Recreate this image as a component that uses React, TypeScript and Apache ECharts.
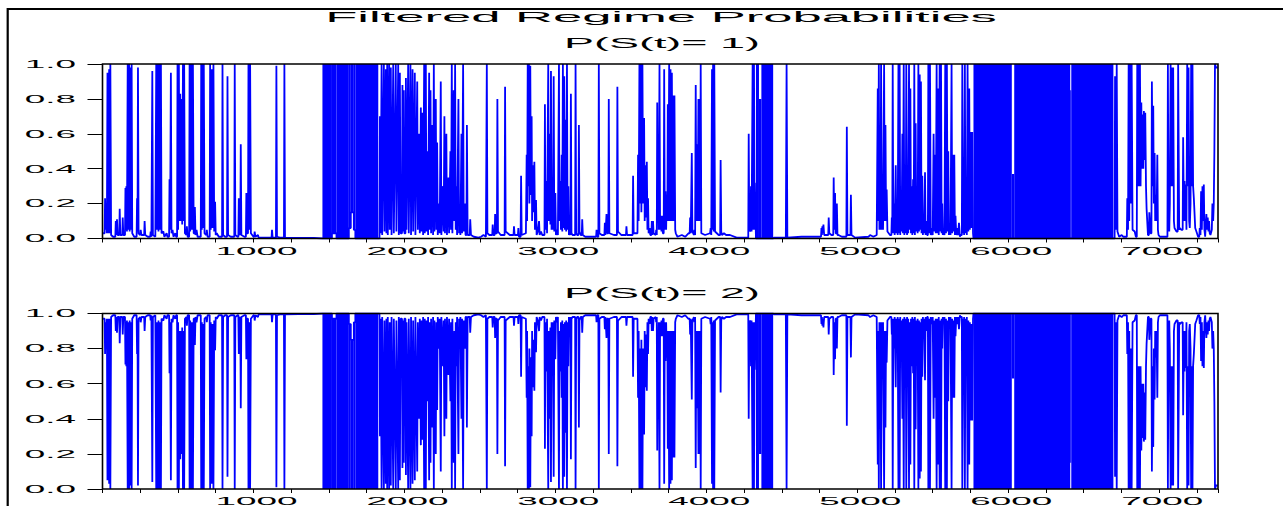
import React, { useEffect, useRef } from "react";
import * as echarts from "echarts";

// ---------- data ----------
const chartTitle = "Filtered Regime Probabilities";
const panelTitles = ["P(S(t)= 1)", "P(S(t)= 2)"];
const xTickLabels = [1000, 2000, 3000, 4000, 5000, 6000, 7000];
const yTickLabels = [0.0, 0.2, 0.4, 0.6, 0.8, 1.0];
const xMax = 7390;

// P(S(t)=1): vertices of the filtered probability line [t, p]
const p1Path: [number, number][] = [
  [4, 0.03], [14, 0.03], [17, 0.23], [21, 0.05], [26, 0.13], [29, 0.03], [33, 0.95], [37, 0.03], [44, 0.97], [48, 0.03], [52, 1.0], [57, 0.02],
  [70, 0.01], [85, 0.01], [88, 0.1], [92, 0.02], [96, 0.11], [100, 0.02], [111, 0.02], [114, 0.17], [118, 0.02], [131, 0.02], [134, 0.12], [138, 0.02],
  [149, 0.02], [152, 0.29], [155, 0.05],
  [158, 0.3], [162, 0.04], [167, 1.0], [171, 0.05], [176, 1.0], [180, 0.04], [185, 0.98], [189, 0.05], [193, 1.0], [197, 0.03], [210, 0.01],
  [226, 0.01], [229, 0.23], [232, 0.04], [235, 0.98], [239, 0.03], [250, 0.02], [253, 0.05], [258, 0.02], [276, 0.02], [279, 0.1], [283, 0.02],
  [300, 0.01], [316, 0.01], [319, 0.04], [324, 0.01], [327, 0.01],
  [330, 0.96], [334, 0.02], [350, 0.01], [353, 0.01], [356, 1.0], [360, 0.05], [367, 1.0], [371, 0.04], [378, 1.0], [382, 0.05], [387, 1.0], [391, 0.03],
  [403, 0.04], [410, 0.01], [425, 0.03], [430, 0.01], [441, 0.01], [444, 0.34], [448, 0.05], [453, 0.95], [457, 0.03], [464, 0.05], [470, 0.01], [482, 0.03],
  [488, 0.01], [494, 0.01], [497, 1.0], [501, 0.05], [506, 1.0], [510, 0.1], [515, 0.83], [519, 0.1], [524, 0.8], [528, 0.08], [533, 1.0], [537, 0.1],
  [541, 1.0], [546, 0.03], [556, 0.02], [559, 0.07], [564, 0.01], [574, 0.01], [577, 1.0], [581, 0.04], [588, 1.0], [592, 0.05], [599, 1.0], [604, 0.03],
  [609, 0.03], [612, 0.18],
  [616, 0.02], [623, 0.05], [630, 0.01], [651, 0.01], [654, 1.0], [658, 0.05], [663, 1.0], [667, 0.06], [671, 1.0], [676, 0.03], [688, 0.02], [691, 0.05],
  [696, 0.01], [710, 0.01],
  [713, 1.0], [717, 0.05], [724, 0.97], [728, 0.06], [735, 1.0], [740, 0.04], [746, 0.21], [750, 0.02], [757, 0.03], [770, 0.01], [792, 0.01], [795, 1.0],
  [799, 0.02], [812, 0.01], [825, 0.01], [828, 0.93], [832, 0.02], [850, 0.01], [873, 0.01], [876, 1.0], [880, 0.02], [895, 0.01], [900, 0.01],
  [903, 0.23], [907, 0.03], [913, 0.02], [916, 0.54],
  [920, 0.02], [940, 0.01], [950, 0.01], [953, 0.26], [957, 0.03], [964, 0.03], [967, 1.0], [971, 0.05], [978, 1.0], [983, 0.03], [1000, 0.01],
  [1005, 0.01], [1008, 0.04], [1013, 0.01],
  [1030, 0.02], [1034, 0.005], [1090, 0.005], [1120, 0.005], [1123, 0.05], [1127, 0.005], [1149, 0.005], [1152, 0.99], [1156, 0.01], [1175, 0.005],
  [1202, 0.005], [1205, 1.0], [1209, 0.005], [1300, 0.003], [1400, 0.003], [1457, 0.0],
  [1520, 0.0], [1520, 0.03], [1550, 0.03], [1550, 0.0], [1632, 0.0], [1632, 0.06], [1645, 0.06], [1645, 0.15], [1665, 0.15], [1665, 0.05],
  [1675, 0.05], [1675, 0.0], [1827, 0.0], [1835, 0.0],
  [1838, 0.7], [1842, 0.03], [1849, 1.0], [1853, 0.02], [1864, 1.0], [1868, 0.04], [1877, 0.97], [1881, 0.03], [1886, 1.0], [1890, 0.02],
  [1899, 1.0], [1903, 0.05], [1910, 0.98], [1915, 0.02], [1926, 1.0], [1930, 0.03], [1943, 1.0], [1947, 0.04], [1959, 1.0], [1963, 0.02],
  [1970, 0.95], [1975, 0.03], [1984, 0.03], [1987, 0.88], [1991, 0.04], [1996, 0.85], [2000, 0.03], [2007, 0.03], [2010, 0.92], [2014, 0.05],
  [2025, 1.0], [2029, 0.03],
  [2040, 1.0], [2044, 0.02], [2054, 0.97], [2058, 0.04], [2069, 0.95], [2073, 0.02], [2085, 0.9], [2089, 0.05], [2098, 0.6], [2102, 0.03],
  [2109, 0.75], [2113, 0.04], [2120, 0.72], [2124, 0.02], [2131, 1.0], [2135, 0.03], [2142, 1.0], [2146, 0.04], [2153, 0.5], [2157, 0.02],
  [2164, 0.95], [2168, 0.05], [2173, 0.85], [2177, 0.03], [2186, 0.65], [2190, 0.02], [2195, 1.0], [2199, 0.04], [2208, 0.8], [2212, 0.05],
  [2217, 0.55], [2221, 0.02], [2230, 0.2], [2234, 0.03], [2241, 0.9], [2245, 0.02], [2256, 0.3], [2260, 0.04], [2265, 0.7], [2269, 0.03],
  [2278, 0.6], [2282, 0.02], [2292, 0.35], [2296, 0.03], [2305, 0.5], [2309, 0.05], [2314, 1.0], [2318, 0.03], [2327, 0.85], [2331, 0.1],
  [2336, 1.0], [2340, 0.05], [2345, 0.3], [2349, 0.02], [2358, 0.8], [2362, 0.03], [2367, 0.1], [2371, 0.02], [2378, 0.6], [2382, 0.03],
  [2389, 1.0], [2393, 0.04], [2400, 0.2], [2405, 0.02], [2411, 0.02], [2414, 0.65], [2419, 0.02], [2433, 0.02], [2436, 0.11], [2441, 0.02],
  [2460, 0.01], [2490, 0.005],
  [2508, 0.01], [2524, 0.02], [2540, 0.01], [2543, 0.01], [2546, 1.0], [2550, 0.03], [2563, 0.02], [2582, 0.02], [2585, 0.08], [2589, 0.02],
  [2598, 0.02], [2601, 0.14], [2605, 0.03], [2613, 0.03],
  [2616, 0.8], [2620, 0.04], [2638, 0.02], [2664, 0.02], [2667, 0.87], [2671, 0.04], [2698, 0.02], [2723, 0.02], [2726, 0.07], [2730, 0.02],
  [2752, 0.02], [2755, 0.06], [2759, 0.01], [2770, 0.01],
  [2773, 0.36], [2777, 0.02], [2805, 0.03], [2810, 0.48], [2813, 0.1], [2817, 1.0], [2820, 0.3], [2825, 1.0], [2828, 0.2], [2834, 0.99],
  [2838, 0.25], [2843, 0.7], [2846, 0.1], [2850, 0.42], [2854, 0.15], [2861, 0.44], [2865, 0.05], [2872, 0.22], [2876, 0.02], [2884, 0.04],
  [2892, 0.1], [2896, 0.02], [2905, 0.04], [2913, 0.02], [2928, 0.02], [2931, 0.77], [2934, 0.05], [2942, 0.33], [2945, 0.03], [2953, 1.0], [2956, 0.1],
  [2964, 0.6], [2967, 0.08], [2971, 0.96], [2975, 0.05], [2980, 0.2], [2984, 0.05], [2989, 0.93], [2993, 0.04], [3000, 0.26], [3004, 0.02],
  [3011, 0.05], [3017, 0.02], [3021, 0.02], [3024, 1.0], [3027, 0.1], [3033, 0.33], [3037, 0.05], [3042, 0.48], [3046, 0.04], [3050, 1.0], [3054, 0.06],
  [3059, 0.93], [3063, 0.05], [3068, 0.68], [3072, 0.04], [3077, 1.0], [3081, 0.05], [3086, 0.3], [3090, 0.02], [3095, 0.05], [3100, 0.02],
  [3103, 0.83], [3107, 0.03], [3114, 0.02], [3131, 0.02], [3134, 1.0], [3138, 0.03], [3145, 0.02], [3153, 0.02], [3156, 0.65], [3160, 0.04],
  [3168, 0.02], [3175, 0.02], [3178, 0.11],
  [3182, 0.02], [3198, 0.01], [3248, 0.01], [3270, 0.01], [3273, 0.05], [3278, 0.01], [3285, 0.01], [3288, 1.0], [3292, 0.03], [3308, 0.02],
  [3325, 0.02], [3328, 0.09], [3332, 0.02],
  [3339, 0.14], [3343, 0.03], [3351, 0.03], [3354, 0.8], [3358, 0.03], [3388, 0.02], [3408, 0.02], [3411, 0.87], [3415, 0.04], [3438, 0.02],
  [3468, 0.02], [3471, 0.07], [3475, 0.02],
  [3498, 0.02], [3512, 0.02], [3515, 0.36], [3519, 0.03], [3544, 0.03], [3548, 0.48], [3552, 0.1], [3557, 1.0], [3561, 0.2], [3566, 1.0], [3570, 0.15],
  [3577, 1.0], [3581, 0.2], [3588, 0.69], [3592, 0.1], [3597, 0.42], [3601, 0.12], [3606, 0.44], [3610, 0.05], [3614, 0.23], [3618, 0.03],
  [3625, 0.06], [3629, 0.02], [3636, 0.02], [3639, 0.1], [3643, 0.02], [3647, 0.1], [3651, 0.03], [3665, 0.02], [3668, 0.05], [3672, 0.02],
  [3675, 0.78], [3678, 0.1],
  [3681, 0.33], [3685, 0.05], [3690, 1.0], [3694, 0.05], [3699, 0.13], [3703, 0.04], [3708, 0.13], [3712, 0.03], [3718, 0.03], [3721, 0.97], [3725, 0.05],
  [3730, 0.27], [3734, 0.05], [3738, 0.25], [3742, 0.1], [3745, 0.77], [3749, 0.1], [3754, 1.0], [3758, 0.1], [3763, 0.97], [3767, 0.1],
  [3772, 0.95], [3776, 0.1], [3780, 0.82], [3784, 0.1], [3789, 0.82], [3794, 0.05], [3798, 0.03], [3809, 0.01], [3838, 0.02], [3860, 0.01],
  [3882, 0.03], [3890, 0.03], [3893, 0.12], [3897, 0.03], [3901, 0.03], [3904, 0.49], [3908, 0.04], [3918, 0.02], [3921, 0.05], [3926, 0.02],
  [3930, 0.88], [3934, 0.1], [3939, 0.54],
  [3943, 0.1], [3948, 0.8], [3952, 0.1], [3957, 0.8], [3960, 0.1], [3963, 1.0], [3967, 0.03], [3992, 0.02], [4025, 0.03], [4029, 0.06],
  [4033, 0.02], [4038, 0.97], [4041, 0.05], [4045, 1.0], [4049, 0.04], [4053, 1.0], [4058, 0.04], [4082, 0.02], [4092, 0.02], [4095, 0.45], [4099, 0.04],
  [4104, 0.02], [4117, 0.03], [4131, 0.02], [4157, 0.02], [4201, 0.005], [4267, 0.005], [4278, 0.005], [4281, 0.6], [4285, 0.05], [4293, 0.04],
  [4296, 0.3], [4300, 0.04], [4304, 0.04],
  [4307, 1.0], [4311, 0.05], [4316, 1.0], [4320, 0.05], [4322, 0.32], [4329, 0.0], [4443, 0.0], [4448, 0.005], [4527, 0.005], [4532, 1.0],
  [4537, 0.005], [4631, 0.01], [4708, 0.01], [4752, 0.01], [4760, 0.01], [4763, 0.06], [4766, 0.02], [4769, 0.07], [4773, 0.03], [4776, 0.08], [4781, 0.02],
  [4796, 0.02], [4808, 0.02], [4811, 0.12], [4815, 0.03], [4829, 0.02], [4841, 0.02], [4844, 0.35], [4848, 0.05], [4853, 0.26], [4857, 0.03],
  [4862, 0.03], [4865, 0.2], [4869, 0.02],
  [4876, 0.02], [4898, 0.01], [4928, 0.01], [4931, 0.64], [4935, 0.02], [4955, 0.02], [4958, 0.25], [4962, 0.02], [4986, 0.005], [5074, 0.01],
  [5085, 0.02], [5107, 0.01],
  [5129, 0.02], [5133, 0.02], [5136, 0.86], [5139, 0.1], [5143, 1.0], [5147, 0.05], [5151, 0.21], [5154, 0.05], [5158, 1.0], [5163, 0.05], [5167, 0.21],
  [5171, 0.05], [5178, 1.0], [5182, 0.1], [5187, 0.65], [5191, 0.1], [5195, 0.28], [5200, 0.04], [5217, 0.02], [5226, 0.02], [5229, 0.12], [5232, 0.03],
  [5235, 1.0], [5239, 0.03], [5244, 0.2], [5248, 0.02], [5255, 0.42], [5259, 0.03], [5264, 0.1], [5268, 0.02], [5273, 1.0], [5277, 0.03],
  [5281, 1.0], [5285, 0.02], [5290, 0.25], [5294, 0.04], [5299, 0.6], [5303, 0.03], [5308, 1.0], [5312, 0.02], [5317, 0.3], [5321, 0.03],
  [5325, 1.0], [5330, 0.02], [5334, 0.15], [5338, 0.03], [5343, 1.0], [5347, 0.05], [5352, 0.86], [5356, 0.03], [5361, 0.3], [5365, 0.02],
  [5370, 0.34], [5374, 0.03], [5378, 1.0], [5382, 0.02], [5387, 0.66], [5391, 0.04], [5396, 0.27], [5400, 0.03], [5405, 1.0], [5409, 0.04],
  [5414, 0.94], [5418, 0.05], [5422, 0.9], [5426, 0.03], [5431, 0.36], [5435, 0.02], [5440, 0.13], [5444, 0.03], [5449, 0.38], [5453, 0.02],
  [5458, 0.1], [5463, 0.02], [5468, 0.02], [5471, 1.0], [5476, 0.03], [5482, 1.0], [5487, 0.02], [5493, 0.06], [5500, 0.02], [5503, 0.02], [5506, 0.6],
  [5510, 0.04],
  [5515, 0.48], [5520, 0.03], [5526, 1.0], [5530, 0.03], [5535, 0.86], [5540, 0.02], [5546, 1.0], [5550, 0.04], [5555, 1.0], [5559, 0.03],
  [5563, 0.2], [5567, 0.02], [5572, 0.06], [5578, 0.02], [5583, 1.0], [5588, 0.03], [5594, 1.0], [5598, 0.04], [5603, 0.5], [5607, 0.02],
  [5612, 0.08], [5618, 0.02], [5625, 1.0], [5629, 0.03], [5634, 0.48], [5638, 0.04], [5643, 0.48], [5647, 0.02], [5651, 0.13], [5656, 0.02],
  [5662, 0.06], [5668, 0.02], [5674, 0.09], [5680, 0.01], [5685, 0.02], [5693, 0.02], [5696, 1.0], [5700, 0.03], [5704, 0.15], [5708, 0.02], [5713, 1.0],
  [5717, 0.03], [5722, 0.15], [5726, 0.02], [5731, 1.0], [5736, 0.04], [5742, 0.86], [5746, 0.05], [5753, 0.61], [5757, 0.06], [5762, 0.61],
  [5767, 0.03], [5770, 0.0], [6697, 0.0], [6705, 0.0],
  [6708, 0.93], [6714, 0.05], [6719, 1.0], [6724, 0.04], [6735, 0.01], [6752, 0.02], [6763, 0.01], [6774, 0.01], [6786, 0.01], [6789, 0.23], [6794, 0.05],
  [6798, 1.0], [6802, 0.1], [6807, 1.0], [6813, 0.2], [6818, 1.0], [6824, 0.05], [6838, 0.04], [6846, 0.01], [6852, 0.01], [6855, 1.0], [6860, 0.3],
  [6864, 1.0], [6868, 0.3], [6873, 1.0], [6877, 0.3], [6882, 0.78], [6886, 0.4], [6891, 0.71], [6895, 0.4], [6899, 0.73], [6904, 0.45],
  [6908, 0.72], [6913, 0.3], [6917, 0.17], [6926, 0.02], [6932, 0.02], [6935, 0.15], [6943, 0.03], [6949, 0.03], [6952, 0.9], [6957, 0.3], [6961, 0.76],
  [6965, 0.2],
  [6970, 0.49], [6974, 0.1], [6979, 0.25], [6983, 0.1], [6988, 0.48], [6992, 0.05], [6996, 0.02], [7005, 0.01], [7049, 0.01], [7055, 0.01], [7058, 1.0],
  [7062, 0.1], [7067, 0.04], [7071, 0.2], [7076, 1.0], [7080, 0.3], [7084, 0.98], [7089, 0.3], [7093, 0.98], [7098, 0.1], [7102, 0.06],
  [7115, 0.04], [7123, 0.04], [7126, 1.0], [7133, 0.05], [7137, 0.06], [7148, 0.05], [7156, 0.05], [7159, 0.58], [7164, 0.1], [7168, 0.33], [7172, 0.1],
  [7177, 0.31],
  [7181, 0.05], [7186, 1.0], [7190, 0.3], [7195, 0.98], [7199, 0.1], [7203, 0.06], [7208, 0.2], [7212, 1.0], [7216, 0.3], [7221, 1.0],
  [7225, 0.3], [7230, 0.23], [7239, 0.06], [7247, 0.04], [7258, 0.01], [7266, 0.01], [7269, 0.06], [7274, 0.02], [7278, 0.27], [7283, 0.05], [7287, 0.3],
  [7291, 0.1], [7296, 0.31], [7300, 0.05], [7305, 0.01], [7313, 0.14], [7318, 0.05], [7322, 0.12], [7327, 0.04], [7331, 0.1], [7335, 0.03],
  [7340, 0.02], [7349, 0.05], [7353, 0.2], [7358, 0.1], [7362, 0.2], [7366, 0.5], [7370, 1.0], [7376, 0.98], [7388, 0.98],
];

// Stretches where P(S(t)=1) switches so fast the line fills a band: [from t, to t, low p, high p]
const p1Bursts: [number, number, number, number][] = [
  [1457, 1520, 0.0, 1.0], [1520, 1550, 0.03, 1.0], [1550, 1632, 0.0, 1.0], [1632, 1645, 0.06, 1.0], [1645, 1665, 0.15, 1.0],
  [1665, 1675, 0.05, 1.0], [1675, 1827, 0.0, 1.0],
  [4329, 4349, 0.0, 1.0], [4349, 4365, 0.0, 0.8], [4365, 4443, 0.0, 1.0],
  [5770, 6024, 0.0, 1.0], [6024, 6040, 0.0, 0.37], [6040, 6411, 0.0, 1.0], [6411, 6418, 0.0, 0.85], [6418, 6697, 0.0, 1.0],
];

const BLUE = "#0000ff";
const FONT = '"Liberation Sans", Arial, sans-serif';

export default function App() {
  const ref = useRef<HTMLDivElement>(null);
  useEffect(() => {
    document.body.style.margin = "0";
    const chart = echarts.init(ref.current!, null, { renderer: "svg" });
    // regime 2 probability is the complement of regime 1
    const p2Path = p1Path.map(([t, p]) => [t, Math.round((1 - p) * 1000) / 1000]);
    const p2Bursts = p1Bursts.map(([a, b, lo, hi]) => [a, b, 1 - hi, 1 - lo]);

    const grids = [
      { left: 102.5, top: 64, width: 1115.5, height: 174.5 },
      { left: 102.5, top: 313.5, width: 1115.5, height: 175.5 },
    ];
    const xAxes = grids.map((_, i) => ({
      type: "value", gridIndex: i, min: 0, max: xMax, interval: 250,
      axisLine: { show: false },
      axisTick: { show: true, length: 4, lineStyle: { color: "#000", width: 1 } },
      axisLabel: { show: false }, splitLine: { show: false },
    }));
    const yAxes = grids.map((_, i) => ({
      type: "value", gridIndex: i, min: 0, max: 1, interval: 0.2,
      axisLine: { show: false },
      axisTick: { show: true, length: 15, lineStyle: { color: "#000", width: 1 } },
      axisLabel: { show: false }, splitLine: { show: false },
    }));
    const burstRender = (params: any, api: any) => {
      const a = api.value(0), b = api.value(1), lo = api.value(2), hi = api.value(3);
      const c0 = api.coord([a, hi]);
      const c1 = api.coord([b, lo]);
      return {
        type: "rect",
        shape: { x: c0[0], y: c0[1], width: Math.max(c1[0] - c0[0], 0.5), height: c1[1] - c0[1] },
        style: { fill: BLUE },
      };
    };
    const series: any[] = [];
    [p1Path, p2Path].forEach((d, i) => {
      series.push({
        type: "line", xAxisIndex: i, yAxisIndex: i, data: d, symbol: "none", showSymbol: false,
        lineStyle: { color: BLUE, width: 1.8 }, clip: true, z: 2,
      });
    });
    [p1Bursts, p2Bursts].forEach((d, i) => {
      series.push({
        type: "custom", xAxisIndex: i, yAxisIndex: i, data: d, renderItem: burstRender,
        encode: { x: [0, 1], y: [2, 3] }, clip: true, z: 2,
      });
    });

    chart.setOption({
      animation: false,
      grid: grids.map((g) => ({ ...g, show: true, borderColor: "#000", borderWidth: 1.6, z: 10, backgroundColor: "transparent" })),
      xAxis: xAxes,
      yAxis: yAxes,
      series,
    });

    // text scaling to mimic the horizontally stretched typography
    const ctx = document.createElement("canvas").getContext("2d")!;
    const fit = (text: string, font: string, target: number) => {
      ctx.font = font;
      return target / ctx.measureText(text).width;
    };
    const titleFont = `15px ${FONT}`;
    const subFont = `14px ${FONT}`;
    const tickFont = `11px ${FONT}`;
    const sTitle = fit(chartTitle, titleFont, 672);
    const sSub = fit(panelTitles[0], subFont, 196);
    const sTick = fit("1000", tickFont, 82);

    const graphic: any[] = [
      { type: "rect", silent: true, shape: { x: 7.7, y: 9, width: 1400, height: 700 }, style: { fill: "none", stroke: "#000", lineWidth: 2.2 } },
      { type: "text", x: 661, y: 17, scaleX: sTitle, style: { text: chartTitle, font: titleFont, fill: "#000", textAlign: "center", textVerticalAlign: "middle", align: "center", verticalAlign: "middle" } },
    ];
    const subY = [43, 293];
    panelTitles.forEach((t, i) => {
      graphic.push({ type: "text", x: 662, y: subY[i], scaleX: sSub, style: { text: t, font: subFont, fill: "#000", textAlign: "center", textVerticalAlign: "middle", align: "center", verticalAlign: "middle" } });
    });
    grids.forEach((_, i) => {
      yTickLabels.forEach((v) => {
        const pt = chart.convertToPixel({ gridIndex: i }, [0, v]) as number[];
        graphic.push({ type: "text", x: 76, y: pt[1], scaleX: sTick, style: { text: v.toFixed(1), font: tickFont, fill: "#000", textAlign: "right", textVerticalAlign: "middle", align: "right", verticalAlign: "middle" } });
      });
      xTickLabels.forEach((v) => {
        const pt = chart.convertToPixel({ gridIndex: i }, [v, 0]) as number[];
        graphic.push({ type: "text", x: pt[0] + 3, y: pt[1] + 7, scaleX: sTick, style: { text: String(v), font: tickFont, fill: "#000", textAlign: "center", textVerticalAlign: "top", align: "center", verticalAlign: "top" } });
      });
    });
    chart.setOption({ graphic });

    return () => chart.dispose();
  }, []);
  return <div ref={ref} style={{ width: 1283, height: 506 }} />;
}
